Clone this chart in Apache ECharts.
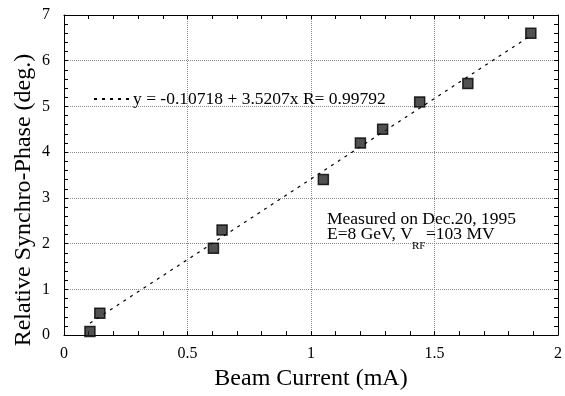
<!DOCTYPE html>
<html>
<head>
<meta charset="utf-8">
<script src="https://cdn.jsdelivr.net/npm/echarts@6/dist/echarts.min.js"></script>
<style>
  html, body { margin: 0; padding: 0; background: #fff; }
  #chart { width: 565px; height: 396px; }
</style>
</head>
<body>
<div id="chart"></div>
<script>
// measured points (beam current mA, phase deg)
const beamCurrent = [0.105, 0.145, 0.605, 0.64, 1.05, 1.2, 1.29, 1.44, 1.635, 1.89];
const syncPhase = [0.08, 0.48, 1.9, 2.3, 3.4, 4.2, 4.5, 5.1, 5.5, 6.6];
// fitted line ends
const fitX = [0.105, 1.89];
const fitY = [0.26, 6.55];
const fitLabel = 'y = -0.10718 + 3.5207x R= 0.99792';
const xTicks = [0, 0.5, 1, 1.5, 2];
const yTicks = [0, 1, 2, 3, 4, 5, 6, 7];

const FONT = 'Liberation Serif';
const chart = echarts.init(document.getElementById('chart'));

const tickStyle = { inside: true, length: 4, lineStyle: { color: '#000' } };
const minorStyle = { show: true, splitNumber: 5, length: 4, lineStyle: { color: '#000' } };
const gridLine = { show: true, lineStyle: { color: '#8a8a8a', type: 'dotted', width: 1 } };
const frameLine = { show: true, onZero: false, lineStyle: { color: '#000' } };

chart.setOption({
  animation: false,
  backgroundColor: '#fff',
  grid: { left: 64, right: 5, top: 15, bottom: 47 },
  legend: {
    left: 93, top: 90, padding: 0,
    itemWidth: 35, itemHeight: 10, itemGap: 4,
    itemStyle: { opacity: 0 },
    textStyle: { fontFamily: FONT, fontSize: 17.5, color: '#000', padding: [0, 0, 0, -1] },
    data: [fitLabel]
  },
  xAxis: [{
    type: 'value', min: xTicks[0], max: xTicks[xTicks.length - 1], interval: 0.5,
    axisLine: frameLine,
    axisTick: tickStyle, minorTick: minorStyle,
    splitLine: gridLine,
    axisLabel: { fontFamily: FONT, fontSize: 16, color: '#000', margin: 11 },
    name: 'Beam Current (mA)', nameLocation: 'middle', nameGap: 11,
    nameTextStyle: { fontFamily: FONT, fontSize: 24, color: '#000' }
  }, {
    type: 'value', position: 'top', min: 0, max: 2, interval: 0.5,
    axisLine: frameLine,
    axisTick: tickStyle, minorTick: minorStyle,
    axisLabel: { show: false }, splitLine: { show: false }
  }],
  yAxis: [{
    type: 'value', min: yTicks[0], max: yTicks[yTicks.length - 1], interval: 1,
    axisLine: frameLine,
    axisTick: tickStyle, minorTick: minorStyle,
    splitLine: gridLine,
    axisLabel: { fontFamily: FONT, fontSize: 16, color: '#000', margin: 14 },
    name: 'Relative Synchro-Phase (deg.)', nameLocation: 'middle', nameGap: 28,
    nameMoveOverlap: false,
    nameTextStyle: { fontFamily: FONT, fontSize: 24, color: '#000', padding: [0, 50, 0, 0] }
  }, {
    type: 'value', position: 'right', min: 0, max: 7, interval: 1,
    axisLine: frameLine,
    axisTick: tickStyle, minorTick: minorStyle,
    axisLabel: { show: false }, splitLine: { show: false }
  }],
  series: [{
    name: fitLabel,
    type: 'line',
    data: fitX.map((x, i) => [x, fitY[i]]),
    symbol: 'none',
    lineStyle: { color: '#000', width: 1.2, type: [3, 5] },
    z: 2
  }, {
    name: 'measured',
    type: 'scatter',
    data: beamCurrent.map((x, i) => [x, syncPhase[i]]),
    symbol: 'rect', symbolSize: 10,
    itemStyle: { color: '#262626', borderColor: '#000', borderWidth: 1.5 },
    z: 3
  }],
  graphic: [
    { type: 'text', left: 327, top: 210,
      style: { text: 'Measured on Dec.20, 1995', font: '17.5px "Liberation Serif"', fill: '#000' } },
    { type: 'text', left: 327, top: 225,
      style: { text: 'E=8 GeV, V', font: '17.5px "Liberation Serif"', fill: '#000' } },
    { type: 'text', left: 412, top: 241,
      style: { text: 'RF', font: '11px "Liberation Serif"', fill: '#000' } },
    { type: 'text', left: 426, top: 225,
      style: { text: '=103 MV', font: '17.5px "Liberation Serif"', fill: '#000' } }
  ]
});
</script>
</body>
</html>
